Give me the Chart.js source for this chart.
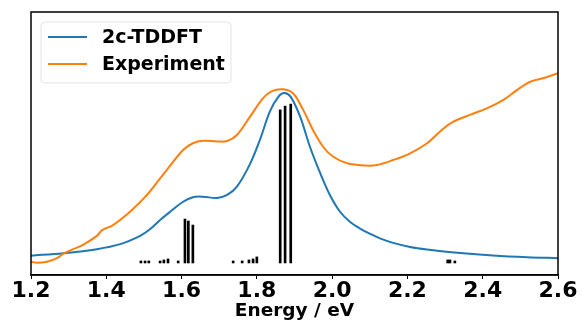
<!DOCTYPE html>
<html>
<head>
<meta charset="utf-8">
<script src="https://cdn.jsdelivr.net/npm/chart.js@4"></script>
<style>
  html, body { margin: 0; padding: 0; background: #fff; }
  #wrap { width: 582px; height: 322px; }
</style>
</head>
<body>
<div id="wrap"><canvas id="spec" width="582" height="322"></canvas></div>
<script>
// computed spectrum (2c-TDDFT), energy in eV
const tddftE = [1.2, 1.286, 1.375, 1.437, 1.49, 1.516, 1.543, 1.569, 1.604, 1.63, 1.657, 1.694, 1.721, 1.747, 1.782, 1.808, 1.835, 1.858, 1.873, 1.89, 1.915, 1.941, 1.968, 1.994, 2.021, 2.048, 2.074, 2.101, 2.127, 2.162, 2.207, 2.252, 2.34, 2.427, 2.518, 2.6];
const tddftI = [0.029, 0.039, 0.055, 0.075, 0.108, 0.134, 0.171, 0.203, 0.244, 0.262, 0.264, 0.259, 0.271, 0.304, 0.395, 0.49, 0.605, 0.664, 0.677, 0.662, 0.583, 0.463, 0.359, 0.271, 0.204, 0.163, 0.137, 0.116, 0.098, 0.08, 0.064, 0.054, 0.04, 0.03, 0.023, 0.019];

// measured spectrum
const expE = [1.2, 1.216, 1.243, 1.269, 1.285, 1.312, 1.338, 1.375, 1.389, 1.418, 1.463, 1.508, 1.543, 1.561, 1.604, 1.63, 1.657, 1.694, 1.721, 1.747, 1.782, 1.816, 1.84, 1.87, 1.896, 1.923, 1.949, 1.976, 2.002, 2.04, 2.087, 2.119, 2.162, 2.207, 2.252, 2.295, 2.321, 2.366, 2.411, 2.454, 2.491, 2.526, 2.56, 2.6];
const expI = [0.005, 0.001, 0.005, 0.019, 0.036, 0.055, 0.072, 0.108, 0.131, 0.151, 0.204, 0.271, 0.337, 0.371, 0.45, 0.477, 0.487, 0.484, 0.486, 0.51, 0.583, 0.656, 0.685, 0.692, 0.676, 0.61, 0.53, 0.463, 0.424, 0.397, 0.388, 0.39, 0.41, 0.437, 0.477, 0.535, 0.562, 0.59, 0.616, 0.649, 0.689, 0.722, 0.736, 0.756];

// excitation sticks
const stickE = [1.492, 1.503, 1.513, 1.543, 1.553, 1.564, 1.591, 1.609, 1.618, 1.63, 1.737, 1.761, 1.779, 1.79, 1.8, 1.862, 1.875, 1.89, 2.307, 2.313, 2.326];
const stickI = [0.008, 0.008, 0.008, 0.008, 0.012, 0.016, 0.008, 0.175, 0.167, 0.151, 0.008, 0.008, 0.012, 0.016, 0.024, 0.61, 0.625, 0.633, 0.012, 0.012, 0.008];

const xTicks = [1.2, 1.4, 1.6, 1.8, 2.0, 2.2, 2.4, 2.6];
const legendNames = ["2c-TDDFT", "Experiment"];
const blue = "#1f77b4";
const orange = "#ff7f0e";

const toXY = (xs, ys) => xs.map((x, i) => ({ x: x, y: ys[i] }));

// box around the plot plus the legend inside it
const framePlugin = {
  id: "frame",
  afterDraw(chart) {
    const ctx = chart.ctx;
    const a = chart.chartArea;
    ctx.save();
    ctx.strokeStyle = "#000";
    ctx.lineWidth = 1.5;
    ctx.strokeRect(a.left, a.top, a.right - a.left, a.bottom - a.top);

    // legend box
    const bx = 41, by = 22, bw = 190, bh = 61, r = 4;
    ctx.beginPath();
    ctx.moveTo(bx + r, by);
    ctx.arcTo(bx + bw, by, bx + bw, by + bh, r);
    ctx.arcTo(bx + bw, by + bh, bx, by + bh, r);
    ctx.arcTo(bx, by + bh, bx, by, r);
    ctx.arcTo(bx, by, bx + bw, by, r);
    ctx.closePath();
    ctx.fillStyle = "rgba(255,255,255,0.8)";
    ctx.fill();
    ctx.strokeStyle = "#e3e3e3";
    ctx.lineWidth = 1;
    ctx.stroke();

    const cols = [blue, orange];
    const rows = [37, 64];
    ctx.font = "bold 19px 'DejaVu Sans'";
    ctx.textBaseline = "middle";
    rows.forEach((y, i) => {
      ctx.strokeStyle = cols[i];
      ctx.lineWidth = 2;
      ctx.beginPath();
      ctx.moveTo(48, y);
      ctx.lineTo(87, y);
      ctx.stroke();
      ctx.fillStyle = "#000";
      ctx.fillText(legendNames[i], 102, y + 1);
    });
    ctx.restore();
  }
};

new Chart(document.getElementById("spec"), {
  type: "line",
  data: {
    datasets: [
      {
        type: "bar",
        label: "sticks",
        data: stickE.map((x, i) => ({ x: x, y: [0, stickI[i]] })),
        backgroundColor: "#000",
        barThickness: 2,
        order: 3
      },
      {
        label: legendNames[0],
        data: toXY(tddftE, tddftI),
        borderColor: blue,
        borderWidth: 2,
        pointRadius: 0,
        tension: 0.35,
        order: 2
      },
      {
        label: legendNames[1],
        data: toXY(expE, expI),
        borderColor: orange,
        borderWidth: 2,
        pointRadius: 0,
        tension: 0.35,
        order: 1
      }
    ]
  },
  options: {
    responsive: false,
    animation: false,
    layout: { padding: { left: 31, right: 24, top: 12, bottom: 0 } },
    plugins: {
      legend: { display: false },
      tooltip: { enabled: false }
    },
    scales: {
      x: {
        type: "linear",
        min: 1.2,
        max: 2.6,
        offset: false,
        afterBuildTicks: (scale) => { scale.ticks = xTicks.map(v => ({ value: v })); },
        afterFit: (scale) => { scale.height = 47; },
        grid: { display: true, drawOnChartArea: false, drawTicks: true, tickLength: 4, color: "#000", offset: false },
        border: { display: true, color: "#000", width: 1.5 },
        ticks: {
          color: "#000",
          padding: -1,
          maxRotation: 0,
          font: { family: "DejaVu Sans", size: 22, weight: "bold" },
          callback: (v) => Number(v).toFixed(1)
        },
        title: {
          display: true,
          text: "Energy / eV",
          color: "#000",
          padding: { top: 0, bottom: 0 },
          font: { family: "DejaVu Sans", size: 18.5, weight: "bold" }
        }
      },
      y: {
        display: false,
        min: -0.048,
        max: 1.0
      }
    }
  },
  plugins: [framePlugin]
});
</script>
</body>
</html>
